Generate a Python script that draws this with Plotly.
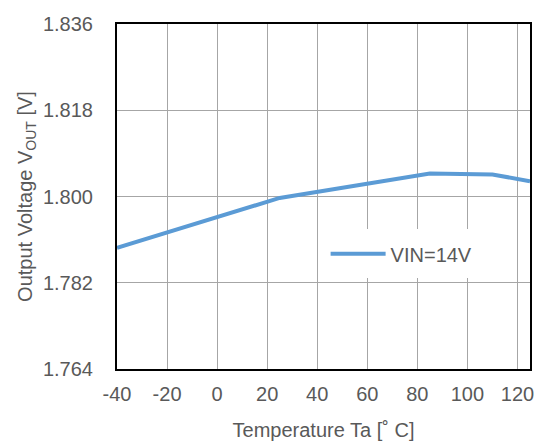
import plotly.graph_objects as go

# Output voltage vs ambient temperature at VIN = 14 V
temperature_c = [-40, 0, 25, 85, 110, 125]
vout_v = [1.7893, 1.7957, 1.7997, 1.8048, 1.8046, 1.8032]

x_ticks = [-40, -20, 0, 20, 40, 60, 80, 100, 120]
x_tick_text = ["-40", "-20", "0", "20", "40", "60", "80", "100", "120"]
y_ticks = [1.764, 1.782, 1.800, 1.818, 1.836]
y_tick_text = ["1.764", "1.782", "1.800", "1.818", "1.836"]

font_family = "Liberation Sans, Arial, sans-serif"
text_grey = "#595959"
grid_grey = "#a6a6a6"

fig = go.Figure()
fig.add_trace(go.Scatter(
    x=temperature_c, y=vout_v, mode="lines", name="VIN=14V",
    line=dict(color="#5b9bd5", width=4),
))

fig.update_layout(
    width=539, height=441,
    margin=dict(l=117, r=9, t=24, b=72),
    paper_bgcolor="white", plot_bgcolor="white",
    font=dict(family=font_family, size=20, color=text_grey),
    showlegend=True,
    legend=dict(
        x=0.493, y=0.405, xanchor="left", yanchor="top",
        bgcolor="white", bordercolor="white", borderwidth=5,
        font=dict(size=20, color=text_grey),
        itemwidth=55,
    ),
)
fig.update_xaxes(
    range=[-40, 125], tickvals=x_ticks, ticktext=x_tick_text,
    showgrid=True, gridcolor=grid_grey, gridwidth=1,
    showline=True, linecolor="black", linewidth=2, mirror=True,
    ticks="", zeroline=False, ticklabelstandoff=6, automargin=False,
    tickfont=dict(size=20, color=text_grey),
    title=dict(text="Temperature Ta [˚ C]", font=dict(size=20, color=text_grey), standoff=19),
)
fig.update_yaxes(
    range=[1.764, 1.836], tickvals=y_ticks, ticktext=y_tick_text,
    showgrid=True, gridcolor=grid_grey, gridwidth=1,
    showline=True, linecolor="black", linewidth=2, mirror=True,
    ticks="", zeroline=False, ticklabelstandoff=18, automargin=False,
    tickfont=dict(size=20, color=text_grey),
    title=dict(text="Output Voltage V<sub>OUT</sub> [V]", font=dict(size=20, color=text_grey), standoff=5),
)

fig.write_html("out.html")
